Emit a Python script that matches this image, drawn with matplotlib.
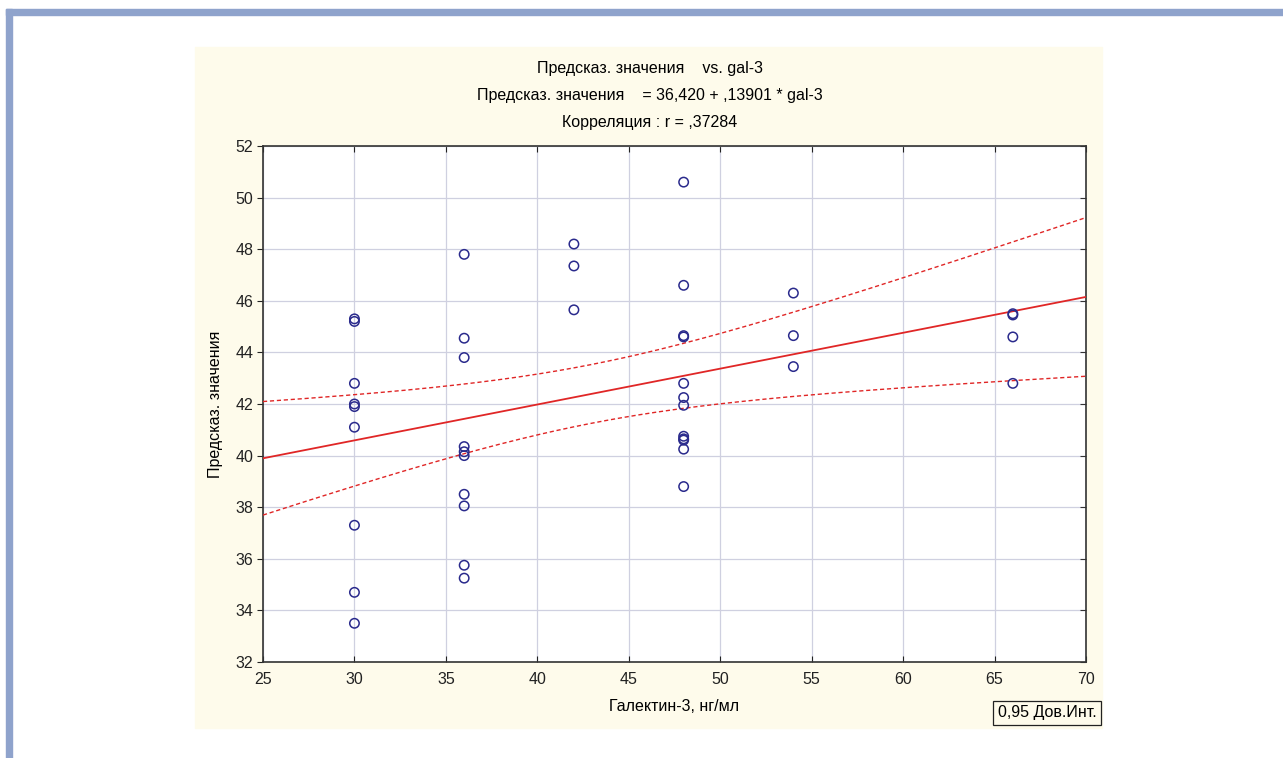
import matplotlib.pyplot as plt
import numpy as np
from matplotlib.patches import Rectangle

plt.rcParams["font.family"] = ["Liberation Sans", "DejaVu Sans"]

# gal-3 groups and the predicted values
gal3_30 = [45.3, 45.2, 42.8, 42.0, 41.9, 41.1, 37.3, 34.7, 33.5]
gal3_36 = [47.8, 44.55, 43.8, 40.35, 40.15, 40.0, 38.5, 38.05, 35.75, 35.25]
gal3_42 = [48.2, 47.35, 45.65]
gal3_48 = [50.6, 46.6, 44.65, 44.6, 42.8, 42.25, 41.95, 40.75, 40.65, 40.6, 40.25, 38.8]
gal3_54 = [46.3, 44.65, 43.45]
gal3_66 = [45.5, 45.45, 44.6, 42.8]
groups = {30: gal3_30, 36: gal3_36, 42: gal3_42, 48: gal3_48, 54: gal3_54, 66: gal3_66}

intercept = 36.420
slope = 0.13901
t_crit = 2.0227  # t(0.975, df=39)

title_lines = [
    "Предсказ. значения    vs. gal-3",
    "Предсказ. значения    = 36,420 + ,13901 * gal-3",
    "Корреляция : r = ,37284",
]
xticks = [25, 30, 35, 40, 45, 50, 55, 60, 65, 70]
yticks = [32, 34, 36, 38, 40, 42, 44, 46, 48, 50, 52]

x = np.concatenate([[k] * len(v) for k, v in groups.items()]).astype(float)
y = np.concatenate([v for v in groups.values()])

FS = 11.5
W, H = 1283, 758
fig = plt.figure(figsize=(W / 100, H / 100), dpi=100)
fig.patch.set_facecolor("white")

# page frame (blue-grey bars) and cream panel
border = "#8fa3cc"
fig.add_artist(Rectangle((6 / W, 0), 6 / W, 1 - 9 / H, transform=fig.transFigure,
                         color=border, zorder=0))
fig.add_artist(Rectangle((6 / W, 1 - 15 / H), 1 - 6 / W, 6 / H, transform=fig.transFigure,
                         color=border, zorder=0))
fig.add_artist(Rectangle((195 / W, 1 - 728 / H), 907 / W, 681 / H, transform=fig.transFigure,
                         color="#fefbeb", zorder=0))

ax = fig.add_axes([263 / W, 1 - 662 / H, 823 / W, 516 / H])
ax.set_facecolor("white")

# regression line and 0.95 confidence band of the mean
xs = np.linspace(25, 70, 200)
fit = intercept + slope * xs
resid = y - (intercept + slope * x)
n = len(x)
s = np.sqrt(np.sum(resid ** 2) / (n - 2))
sxx = np.sum((x - x.mean()) ** 2)
half = t_crit * s * np.sqrt(1 / n + (xs - x.mean()) ** 2 / sxx)

ax.plot(xs, fit, color="#e02626", lw=1.3, zorder=3)
ax.plot(xs, fit + half, color="#e02626", lw=1.0, ls=(0, (3, 2)), zorder=3)
ax.plot(xs, fit - half, color="#e02626", lw=1.0, ls=(0, (3, 2)), zorder=3)

ax.scatter(x, y, s=46, facecolors="none", edgecolors="#2a2a8c", linewidths=1.1, zorder=4)

ax.set_xlim(25, 70)
ax.set_ylim(32, 52)
ax.set_xticks(xticks)
ax.set_yticks(yticks)
ax.grid(True, color="#cfd0e0", lw=0.9, zorder=0)
ax.set_axisbelow(True)
ax.tick_params(axis="both", labelsize=FS, colors="#222222", length=4, width=0.8)
ax.tick_params(axis="y", direction="out", pad=3)
ax.tick_params(axis="x", direction="in", pad=7, top=True)
for sp in ax.spines.values():
    sp.set_color("#333333")
    sp.set_linewidth(1.2)

# inward ticks on the right side only
ax_r = ax.twinx()
ax_r.set_ylim(ax.get_ylim())
ax_r.set_yticks(yticks)
ax_r.tick_params(axis="y", direction="in", length=4, width=0.8, labelright=False,
                 colors="#333333")
for sp in ax_r.spines.values():
    sp.set_visible(False)

ax.set_xlabel("Галектин-3, нг/мл", fontsize=FS, labelpad=9)
ax.set_ylabel("Предсказ. значения", fontsize=FS, labelpad=9)

for i, line in enumerate(title_lines):
    fig.text(650 / W, 1 - (68 + 27.5 * i) / H, line, ha="center", va="center", fontsize=FS)

fig.text(1047 / W, 1 - 713 / H, "0,95 Дов.Инт.", ha="center", va="center", fontsize=FS,
         bbox=dict(boxstyle="square,pad=0.3", facecolor="#fefbeb", edgecolor="#222222", lw=0.9))

fig.savefig("out.png", dpi=100)
